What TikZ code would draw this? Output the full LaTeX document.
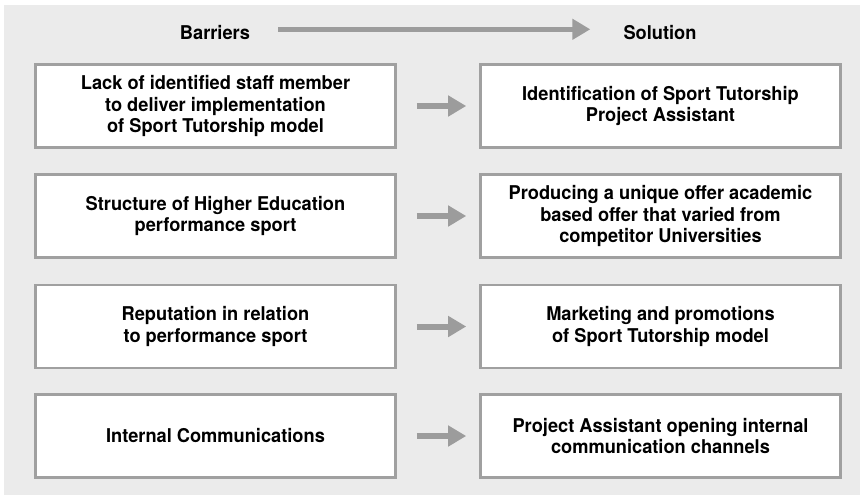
\documentclass[tikz,border=0pt]{standalone}
\usepackage{fontspec}
\setmainfont{TeX Gyre Heros}[FakeStretch=0.96]
\usetikzlibrary{arrows.meta}
\definecolor{bggray}{HTML}{EBEBEB}
\definecolor{edgegray}{HTML}{A0A0A0}
\definecolor{arrgray}{HTML}{9C9C9C}
\begin{document}
\begin{tikzpicture}[x=1pt,y=-1pt,
  box/.style={draw=edgegray, line width=2.6pt, fill=white, minimum width=360pt, minimum height=83pt, inner sep=0pt, align=center, font=\fontsize{19}{21.7}\selectfont\bfseries},
  head/.style={inner sep=0pt, font=\fontsize{19}{21.7}\selectfont\bfseries},
  smallarr/.style={draw=arrgray, line width=6pt, -{Triangle[length=18pt,width=20pt]}, arrgray, shorten <=20pt, shorten >=13pt},
  bigarr/.style={draw=arrgray, line width=4.5pt, -{Triangle[length=18pt,width=20pt]}, arrgray}
]
\useasboundingbox (0,0) rectangle (866,496);
\fill[bggray] (4,5) rectangle (860,495);
\node[head] (bar) at (215,33) {Barriers};
\node[head] (sol) at (660,33) {Solution};
\draw[bigarr] ([xshift=28pt,yshift=3.7pt]bar.east) -- ([xshift=-33pt,yshift=3.7pt]sol.west);
\node[box] (L1) at (215.5,106) {Lack of identified staff member\\to deliver implementation\\of Sport Tutorship model};
\node[box] (R1) at (660.5,106) {Identification of Sport Tutorship\\Project Assistant};
\node[box] (L2) at (215.5,216) {Structure of Higher Education\\performance sport};
\node[box] (R2) at (660.5,216) {Producing a unique offer academic\\based offer that varied from\\competitor Universities};
\node[box] (L3) at (215.5,326.5) {Reputation in relation\\to performance sport};
\node[box] (R3) at (660.5,326.5) {Marketing and promotions\\of Sport Tutorship model};
\node[box] (L4) at (215.5,436) {Internal Communications};
\node[box] (R4) at (660.5,436) {Project Assistant opening internal\\communication channels};
\foreach \i in {1,2,3,4} {
  \draw[smallarr] (L\i.east) -- (R\i.west);
}
\end{tikzpicture}
\end{document}
